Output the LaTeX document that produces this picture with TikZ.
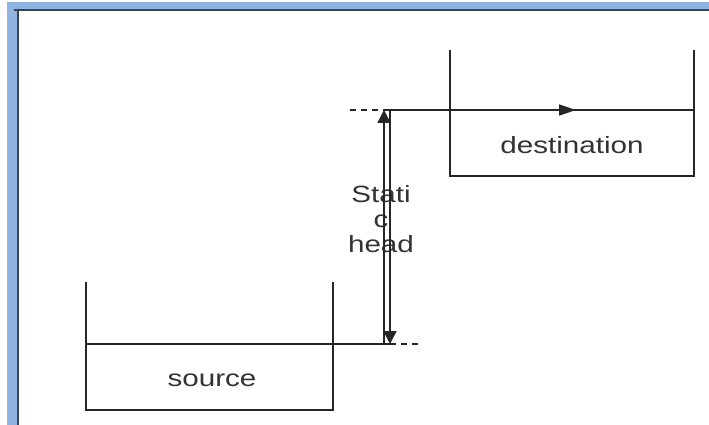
\documentclass[tikz,border=0pt]{standalone}
\usepackage{fontspec}
\setmainfont[FakeStretch=1.26]{Liberation Sans}
\usepackage{xcolor}
\usepackage{tikz}
\usetikzlibrary{arrows.meta, positioning}

\definecolor{framefill}{RGB}{141,180,226}
\definecolor{frameline}{RGB}{62,66,74}

\begin{document}
\begin{tikzpicture}[
    x=1pt, y=-1pt,
    wall/.style={line width=1.6pt, color=black!85},
    guide/.style={line width=1.3pt, color=black!85, dash pattern=on 6pt off 5pt},
    flow/.style={-{Triangle[length=17pt, width=11pt]}, line width=1.6pt, color=black!85},
    headarrow/.style={-{Triangle[length=13pt, width=13pt]}, line width=1.6pt, color=black!85},
    lbl/.style={font=\fontsize{23.5}{25}\selectfont, text=black!80, inner sep=0pt, align=center}
]
    \useasboundingbox (0,0) rectangle (709,425);
    \fill[white] (0,0) rectangle (709,425);

    % Window frame
    \fill[framefill] (7,2) rectangle (709,10);
    \fill[framefill] (7,2) rectangle (17,425);
    \draw[frameline, line width=2pt] (14,10.5) -- (709,10.5);
    \draw[frameline, line width=2pt] (17.5,10) -- (17.5,425);

    % Tanks
    \draw[wall] (450,50) -- (450,176) -- (694,176) -- (694,50);
    \draw[wall] (86,282) -- (86,410) -- (333,410) -- (333,282);

    % Levels
    \coordinate (dleft) at (383,110);
    \coordinate (dright) at (694,110);
    \coordinate (dflow) at (576,110);
    \coordinate (ddash) at (350,110);
    \coordinate (sleft) at (86,344);
    \coordinate (sright) at (390,344);
    \coordinate (sdash) at (420,344);

    % Labels
    \node[lbl] (destlabel) at (572,145) {destination};
    \node[lbl] (srclabel) at (212,380) {source};
    \node[lbl] (headlabel) at (381,219) {Stati\\c\\head};

    % Water surfaces
    \draw[wall] (dleft) -- (dright);
    \draw[flow] (dleft) -- (dflow);
    \draw[guide] (ddash) -- (dleft);
    \draw[wall] (sleft) -- (sright);
    \draw[guide] (sright) -- (sdash);

    % Static head
    \coordinate (uptop) at (384,110);
    \coordinate (upbot) at (384,344);
    \coordinate (dntop) at (390,110);
    \coordinate (dnbot) at (390,344);
    \draw[headarrow] (upbot) -- (uptop);
    \draw[headarrow] (dntop) -- (dnbot);
\end{tikzpicture}
\end{document}
